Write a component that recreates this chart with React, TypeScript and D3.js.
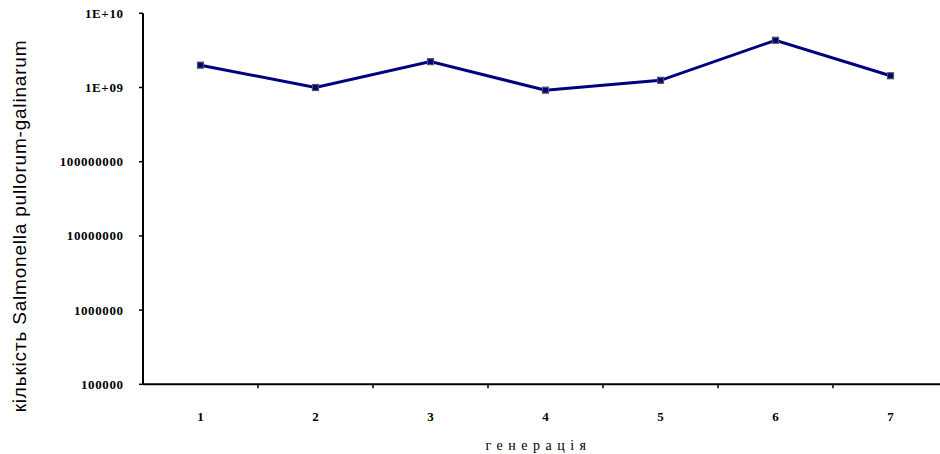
import * as d3 from "d3";
import { useEffect, useRef } from "react";

const generations = ["1", "2", "3", "4", "5", "6", "7"];
const counts = [2.0e9, 1.0e9, 2.23e9, 9.2e8, 1.25e9, 4.33e9, 1.44e9];
const yTicks = [1e5, 1e6, 1e7, 1e8, 1e9, 1e10];
const yTickLabels = ["100000", "1000000", "10000000", "100000000", "1E+09", "1E+10"];

const W = 940;
const H = 454;

export default function App() {
  const ref = useRef<SVGSVGElement>(null);

  useEffect(() => {
    document.body.style.margin = "0";
    const svg = d3.select(ref.current);
    svg.selectAll("*").remove();

    const left = 143;
    const top = 13.3;
    const bottom = 384.3;
    const band = 115;

    const x = d3
      .scaleBand()
      .domain(generations)
      .range([left, left + band * generations.length]);
    const y = d3.scaleLog().domain([1e5, 1e10]).range([bottom, top]);

    const serif = "'Liberation Serif', 'Times New Roman', serif";

    // y axis
    const yAxis = svg.append("g");
    yAxis
      .append("line")
      .attr("x1", left)
      .attr("x2", left)
      .attr("y1", top)
      .attr("y2", bottom)
      .attr("stroke", "#000")
      .attr("stroke-width", 2);
    yTicks.forEach((t, i) => {
      yAxis
        .append("line")
        .attr("x1", left - 4)
        .attr("x2", left)
        .attr("y1", y(t))
        .attr("y2", y(t))
        .attr("stroke", "#000")
        .attr("stroke-width", 1.5);
      yAxis
        .append("text")
        .attr("x", 123.6)
        .attr("y", y(t))
        .attr("dy", "0.35em")
        .attr("text-anchor", "end")
        .attr("font-family", serif)
        .attr("font-weight", "bold")
        .attr("font-size", 13)
        .attr("letter-spacing", 0.6)
        .text(yTickLabels[i]);
    });

    // x axis
    const xAxis = svg.append("g");
    xAxis
      .append("line")
      .attr("x1", left)
      .attr("x2", left + band * generations.length)
      .attr("y1", bottom)
      .attr("y2", bottom)
      .attr("stroke", "#000")
      .attr("stroke-width", 2);
    generations.forEach((g) => {
      const x0 = x(g)! + band;
      xAxis
        .append("line")
        .attr("x1", x0)
        .attr("x2", x0)
        .attr("y1", bottom)
        .attr("y2", bottom + 4)
        .attr("stroke", "#000")
        .attr("stroke-width", 1.5);
      xAxis
        .append("text")
        .attr("x", x(g)! + x.bandwidth() / 2)
        .attr("y", 421)
        .attr("text-anchor", "middle")
        .attr("font-family", serif)
        .attr("font-weight", "bold")
        .attr("font-size", 13)
        .text(g);
    });

    // titles
    svg
      .append("text")
      .attr("x", 538.5)
      .attr("y", 450)
      .attr("text-anchor", "middle")
      .attr("font-family", serif)
      .attr("font-size", 14)
      .attr("letter-spacing", 5.5)
      .text("генерація");
    svg
      .append("text")
      .attr("transform", `translate(26,226) rotate(-90)`)
      .attr("text-anchor", "middle")
      .attr("font-family", "'Liberation Sans', Arial, sans-serif")
      .attr("font-size", 19)
      .attr("letter-spacing", 0.8)
      .text("кількість Salmonella pullorum-galinarum");

    // series
    const cx = (i: number) => x(generations[i])! + x.bandwidth() / 2;
    const line = d3
      .line<number>()
      .x((_, i) => cx(i))
      .y((d) => y(d));
    svg
      .append("path")
      .datum(counts)
      .attr("d", line)
      .attr("fill", "none")
      .attr("stroke", "#000080")
      .attr("stroke-width", 3);
    svg
      .append("g")
      .selectAll("rect")
      .data(counts)
      .join("rect")
      .attr("x", (_, i) => cx(i) - 3)
      .attr("y", (d) => y(d) - 3)
      .attr("width", 6)
      .attr("height", 6)
      .attr("fill", "#000080")
      .attr("stroke", "#555")
      .attr("stroke-width", 1.2);
  }, []);

  return <svg ref={ref} width={W} height={H} style={{ display: "block" }} />;
}
